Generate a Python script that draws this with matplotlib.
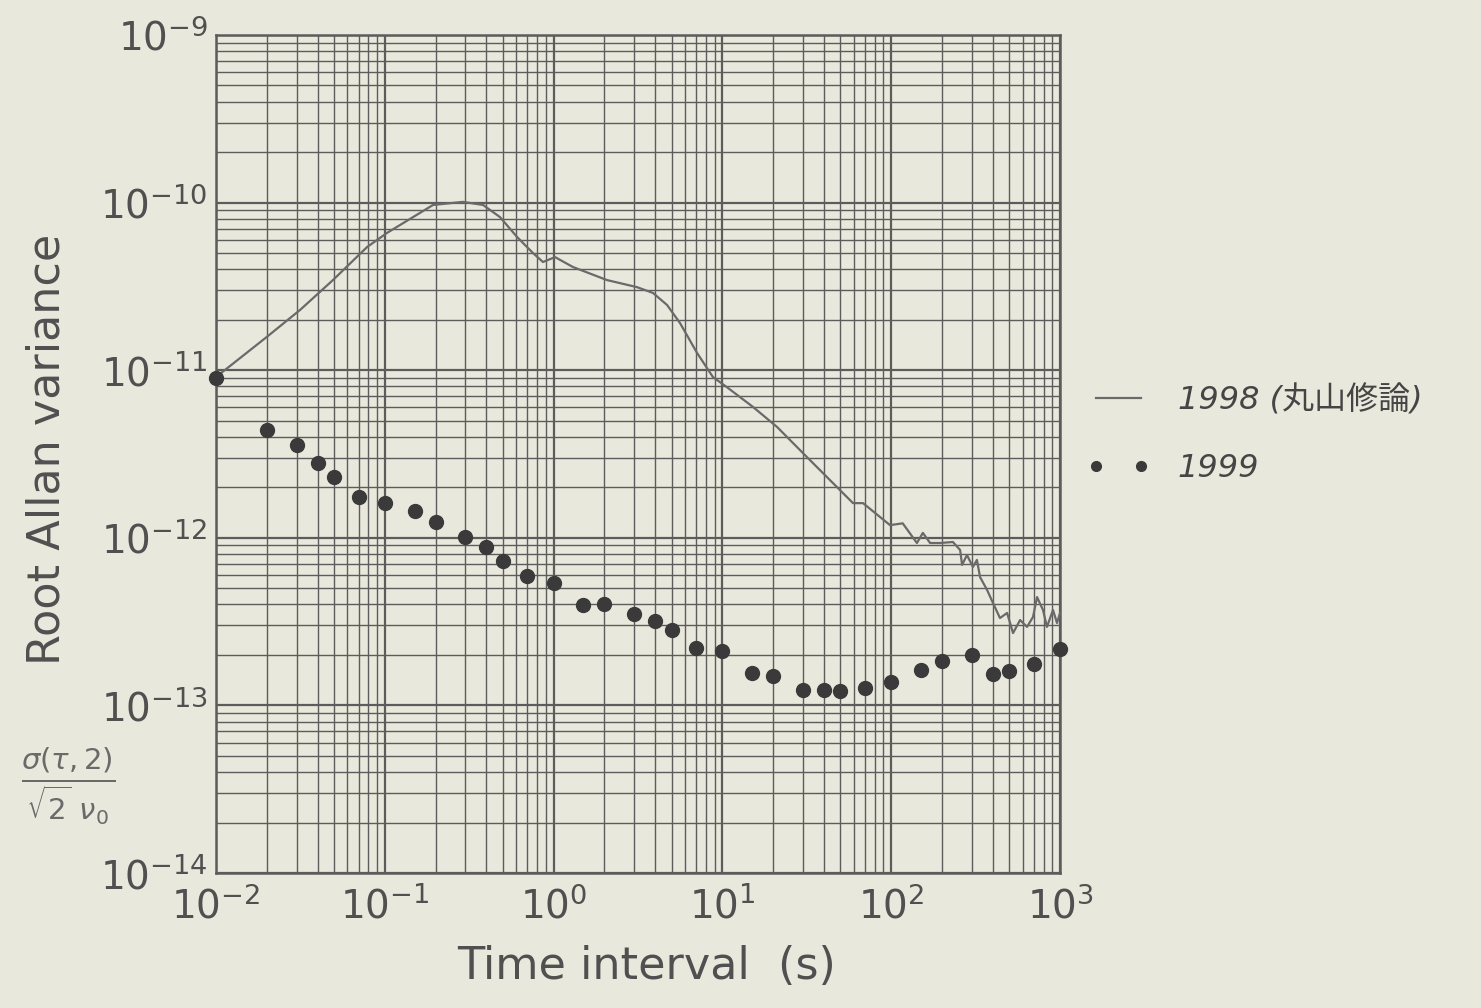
import matplotlib
matplotlib.use('Agg')
import matplotlib.pyplot as plt
from matplotlib.ticker import LogLocator, NullFormatter

# ---- data ----
tau_1998 = [0.01, 0.020, 0.0315, 0.0493, 0.0785, 0.103, 0.193, 0.290, 0.382, 0.481,
            0.607, 0.755, 0.865, 1.02, 1.30, 2.07, 3.12, 3.88, 4.70, 5.61,
            7.07, 8.79, 10.6, 15.2, 21.1, 31.7, 45.2, 59.4, 68.1, 98.4,
            117, 142, 154, 170, 195, 232, 256, 263, 281, 305,
            322, 336, 370, 401, 441, 486, 527, 580, 638, 692,
            731, 793, 837, 909, 960, 1000]
adev_1998 = [9.1e-12, 1.58e-11, 2.29e-11, 3.45e-11, 5.43e-11, 6.59e-11, 9.68e-11, 1.01e-10, 9.68e-11, 8.20e-11,
             6.24e-11, 5.00e-11, 4.42e-11, 4.73e-11, 4.13e-11, 3.45e-11, 3.13e-11, 2.89e-11, 2.45e-11, 1.91e-11,
             1.27e-11, 9.1e-12, 7.94e-12, 6.03e-12, 4.58e-12, 3.03e-12, 2.12e-12, 1.61e-12, 1.61e-12, 1.19e-12,
             1.22e-12, 9.31e-13, 1.07e-12, 9.31e-13, 9.31e-13, 9.44e-13, 8.46e-13, 6.89e-13, 7.89e-13, 6.70e-13,
             7.38e-13, 5.83e-13, 4.88e-13, 4.08e-13, 3.32e-13, 3.56e-13, 2.70e-13, 3.23e-13, 2.94e-13, 3.37e-13,
             4.43e-13, 3.71e-13, 2.94e-13, 3.71e-13, 3.10e-13, 3.56e-13]

tau_1999 = [0.01, 0.02, 0.03, 0.04, 0.05, 0.07, 0.1, 0.15, 0.2, 0.3,
            0.4, 0.5, 0.7, 1.0, 1.5, 2.0, 3.0, 4.0, 5.0, 7.0,
            10, 15, 20, 30, 40, 50, 70, 100, 150, 200,
            300, 400, 500, 700, 1000]
adev_1999 = [9.0e-12, 4.4e-12, 3.58e-12, 2.79e-12, 2.31e-12, 1.75e-12, 1.61e-12, 1.44e-12, 1.24e-12, 1.01e-12,
             8.8e-13, 7.3e-13, 5.9e-13, 5.4e-13, 3.97e-13, 4.03e-13, 3.5e-13, 3.19e-13, 2.82e-13, 2.2e-13,
             2.11e-13, 1.56e-13, 1.5e-13, 1.24e-13, 1.24e-13, 1.22e-13, 1.27e-13, 1.38e-13, 1.63e-13, 1.84e-13,
             2.0e-13, 1.54e-13, 1.60e-13, 1.77e-13, 2.17e-13]

x_ticks = [1e-2, 1e-1, 1e0, 1e1, 1e2, 1e3]
y_ticks = [1e-14, 1e-13, 1e-12, 1e-11, 1e-10, 1e-9]
series_labels = ['1998 (丸山修論)', '1999']
x_label = 'Time interval  (s)'
y_label = 'Root Allan variance'

# ---- style ----
paper = '#e8e8dc'
ink = '#505050'
grid_c = '#5c5c5c'

plt.rcParams['font.family'] = ['DejaVu Sans', 'Noto Sans CJK JP']

fig = plt.figure(figsize=(14.81, 10.08), dpi=100, facecolor=paper)
ax = fig.add_axes([216/1481, 1 - 873/1008, (1060-216)/1481, (873-35)/1008])
ax.set_facecolor(paper)
ax.set_xscale('log')
ax.set_yscale('log')
ax.set_xlim(x_ticks[0], x_ticks[-1])
ax.set_ylim(y_ticks[0], y_ticks[-1])
ax.set_xticks(x_ticks)
ax.set_yticks(y_ticks)
ax.xaxis.set_minor_locator(LogLocator(base=10, subs=range(2, 10), numticks=20))
ax.yaxis.set_minor_locator(LogLocator(base=10, subs=range(2, 10), numticks=20))
ax.xaxis.set_minor_formatter(NullFormatter())
ax.yaxis.set_minor_formatter(NullFormatter())
ax.grid(True, which='major', color=grid_c, lw=1.6)
ax.grid(True, which='minor', color=grid_c, lw=1.0)
ax.set_axisbelow(True)
ax.tick_params(which='both', length=0, labelsize=28, colors=ink)
ax.tick_params(axis='x', pad=10)
ax.tick_params(axis='y', pad=6)
for s in ax.spines.values():
    s.set_color(grid_c)
    s.set_linewidth(1.8)

l1, = ax.plot(tau_1998, adev_1998, color='#6a6a6a', lw=1.6, label=series_labels[0],
              clip_on=False, zorder=3)
l2, = ax.plot(tau_1999, adev_1999, ls='none', marker='o', ms=10, color='#3a3a3a',
              label=series_labels[1], clip_on=False, zorder=4)

ax.set_xlabel(x_label, fontsize=32, color=ink)
ax.set_ylabel(y_label, fontsize=32, color=ink)
ax.xaxis.set_label_coords(0.51, -0.086)
ax.yaxis.set_label_coords(-0.175, 0.505)

leg = ax.legend(handles=[l1, l2], loc='upper left', bbox_to_anchor=(1058/1481, 1 - 356/1008),
                bbox_transform=fig.transFigure, frameon=False, fontsize=23,
                handlelength=2.0, handletextpad=0.85, labelspacing=1.15, numpoints=2,
                markerscale=0.7)
for t in leg.get_texts():
    t.set_color('#454545')
    t.set_fontstyle('italic')

fig.text(68/1481, 1 - 785/1008, r'$\frac{\sigma(\tau,2)}{\sqrt{2}\ \nu_0}$',
         fontsize=30, color='#6a6a6a', ha='center', va='center')

fig.savefig('out.png', dpi=100, facecolor=paper)
